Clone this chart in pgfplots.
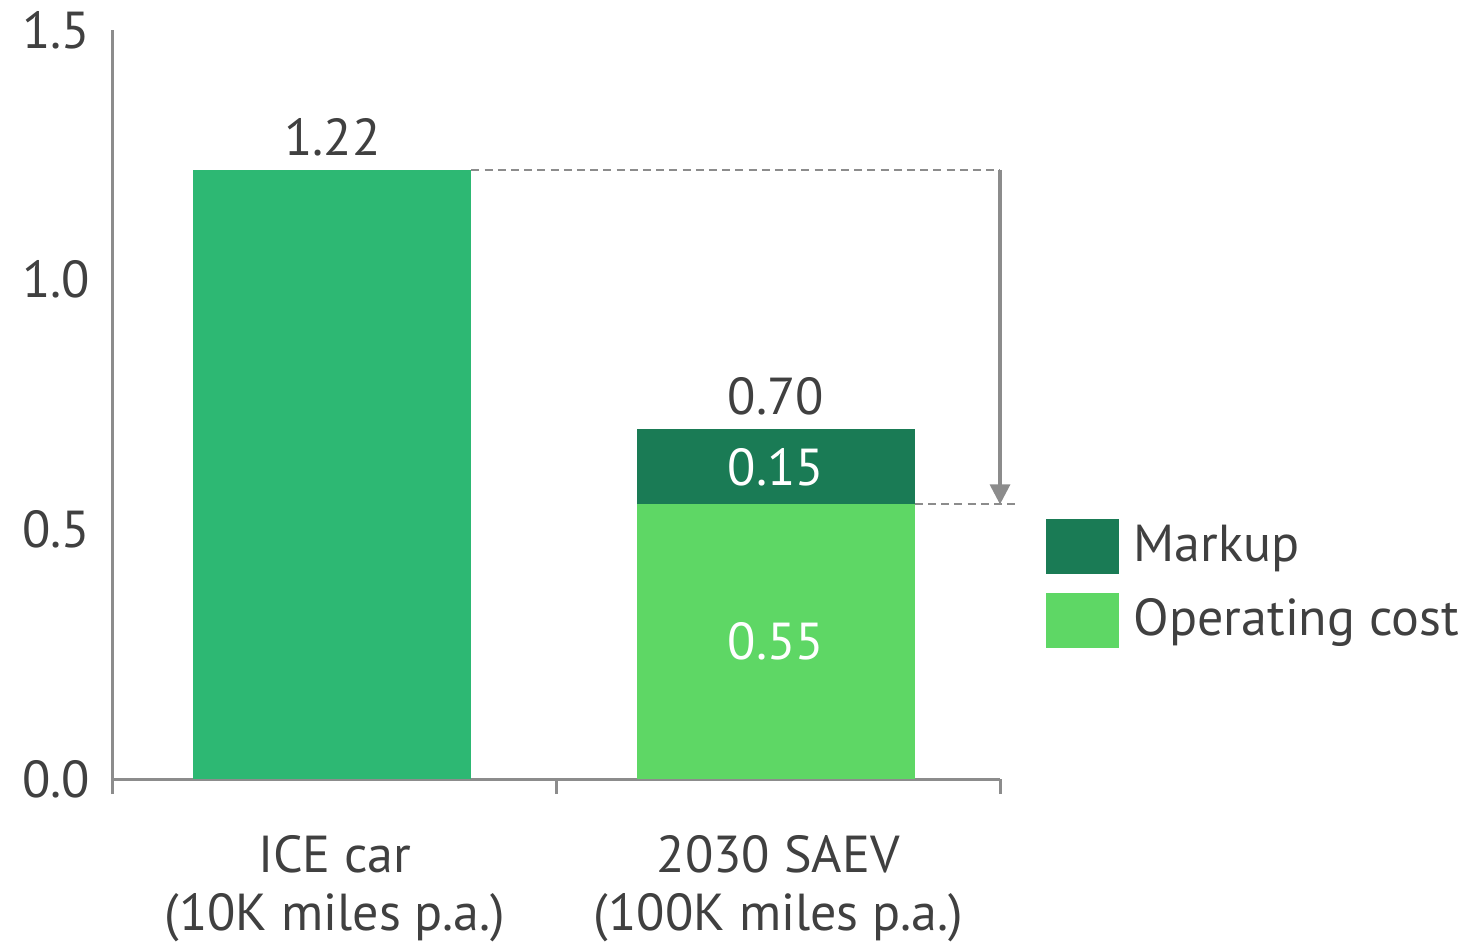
\documentclass[border=0pt]{standalone}
\usepackage{fontspec}
\setmainfont{PT Sans}
\usepackage{pgfplots}
\pgfplotsset{compat=1.18}
\usepackage{pgfplotstable}
\usetikzlibrary{arrows.meta}
\definecolor{ice}{HTML}{2DB873}
\definecolor{opc}{HTML}{5ED765}
\definecolor{mku}{HTML}{1A7B55}
\definecolor{txt}{HTML}{404040}
\definecolor{axg}{HTML}{8C8C8C}

\pgfplotstableread{
x ice op mk
0 1.22 0    0
1 0    0.55 0.15
}\data
\pgfplotstableread{
x total
0 1.22
1 0.70
}\totals

\newcommand{\nzlabel}{\pgfmathfloatifflags{\pgfplotspointmeta}{0}{}{\pgfmathprintnumber[fixed,fixed zerofill,precision=2,assume math mode=true]{\pgfplotspointmeta}}}

\begin{document}
\begin{tikzpicture}
\pgfplotsset{
  common/.style={
    scale only axis, width=221.75pt, height=187.25pt,
    xmin=-0.5, xmax=1.5, ymin=0, ymax=1.5,
    bar width=69.5pt, clip=false,
    font=\fontsize{13}{14.5}\selectfont,
    /pgf/number format/assume math mode=true,
  }
}
\begin{axis}[
  common,
  ybar stacked, bar shift=-0.6pt,
  axis x line*=bottom, axis y line*=left,
  axis line style={draw=axg, line width=0.75pt},
  xtick={0,1},
  xticklabels={{ICE car\\(10K miles p.a.)},{2030 SAEV\\(100K miles p.a.)}},
  xticklabel style={align=center, text=txt, yshift=-10.5pt},
  minor xtick={-0.5,0.5,1.5},
  major tick length=0pt,
  minor tick length=3.75pt,
  tick align=outside,
  minor tick style={draw=axg, line width=0.75pt},
  major tick style={draw=none},
  ytick={0,0.5,1,1.5},
  yticklabel style={text=txt, xshift=-2.25pt, /pgf/number format/.cd, fixed, fixed zerofill, precision=1},
  point meta=explicit,
  reverse legend,
  legend style={draw=none, fill=none, at={(1.0507,0.3485)}, anchor=north west,
    inner sep=0pt, row sep=4.75pt, column sep=3.75pt,
    cells={anchor=west}, nodes={inner sep=0pt, text=txt}},
]
\addplot[fill=ice, draw=none, forget plot]
  table[x=x, y=ice, meta=ice] {\data};
\addplot[fill=opc, draw=none,
  nodes near coords=\nzlabel,
  every node near coord/.append style={anchor=center, text=white},
  legend image code/.code={\fill[opc] (0pt,-6.875pt) rectangle (18.25pt,6.875pt);}]
  table[x=x, y=op, meta=op] {\data};
\addlegendentry{Operating cost}
\addplot[fill=mku, draw=none,
  nodes near coords=\nzlabel,
  every node near coord/.append style={anchor=center, text=white},
  legend image code/.code={\fill[mku] (0pt,-6.875pt) rectangle (18.25pt,6.875pt);}]
  table[x=x, y=mk, meta=mk] {\data};
\addlegendentry{Markup}

\draw[axg, line width=0.55pt, dash pattern=on 2pt off 1.3pt]
  ([xshift=34.15pt]axis cs:0,1.22) -- (axis cs:1.5,1.22);
\draw[axg, line width=0.55pt, dash pattern=on 2pt off 1.3pt]
  ([xshift=34.15pt]axis cs:1,0.55) -- ([xshift=3.75pt]axis cs:1.5,0.55);
\draw[axg, line width=0.8pt, -{Triangle[width=5pt,length=5pt]}]
  (axis cs:1.5,1.22) -- (axis cs:1.5,0.55);
\end{axis}
\begin{axis}[
  common, hide axis,
  ybar, bar shift=-0.6pt,
  point meta=explicit,
  nodes near coords=\nzlabel,
  every node near coord/.append style={anchor=south, text=txt},
]
\addplot[fill=none, draw=none] table[x=x, y=total, meta=total] {\totals};
\end{axis}
\pgfresetboundingbox
\path ([xshift=-28.25pt,yshift=-41.75pt]current axis.south west) rectangle ([xshift=340pt,yshift=194.75pt]current axis.south west);
\end{tikzpicture}
\end{document}
